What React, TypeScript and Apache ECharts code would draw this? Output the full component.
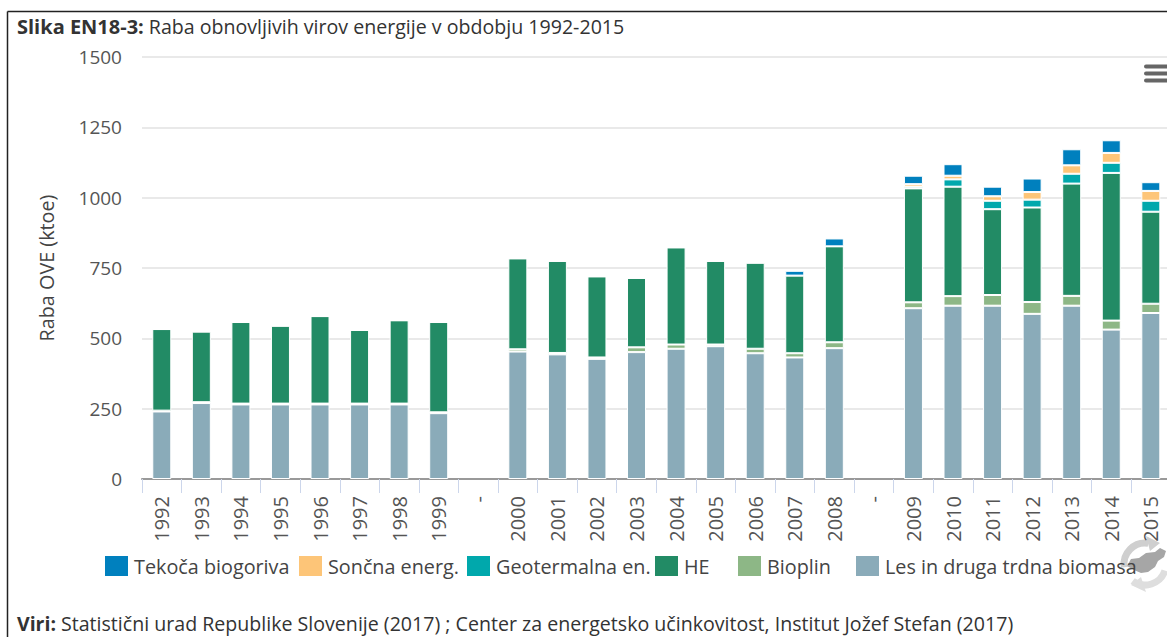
import React, { useEffect, useRef } from "react";
import * as echarts from "echarts";

const categories = ["1992","1993","1994","1995","1996","1997","1998","1999","-","2000","2001","2002","2003","2004","2005","2006","2007","2008","-","2009","2010","2011","2012","2013","2014","2015"];
const biomasa = [240,270,265,265,265,265,265,234,null,453,443,427,451,463,472,447,432,465,null,607,616,616,587,616,531,590];
const bioplin = [3,3,3,3,3,3,3,3,null,8,5,5,17,15,6,16,15,21,null,21,34,38,42,35,32,33];
const he = [290,251,290,277,311,262,296,321,null,323,327,288,247,345,297,306,276,341,null,405,389,305,336,399,525,327];
const geotermalna = [0,0,0,0,0,0,0,0,null,0,0,0,0,0,0,0,0,0,null,6,26,30,28,35,36,39];
const soncna = [0,0,0,0,0,0,0,0,null,0,0,0,0,0,0,0,0,0,null,9,13,16,27,30,35,35];
const biogoriva = [0,0,0,0,0,0,0,0,null,0,0,0,0,0,0,0,17,28,null,30,41,34,48,57,45,31];

const seriesNames = ["Les in druga trdna biomasa","Bioplin","HE","Geotermalna en.","Sončna energ.","Tekoča biogoriva"];
const seriesColors = ["#8AABB9","#8DB786","#228B65","#00A8AC","#FDC578","#0080BE"];
const legendLefts = [856,738,655,467,299,105];
const yTicks = { min: 0, max: 1500, interval: 250 };
const titleBold = "Slika EN18-3:";
const titleText = "Raba obnovljivih virov energije v obdobju 1992-2015";
const sourceBold = "Viri:";
const sourceText = "Statistični urad Republike Slovenije (2017) ; Center za energetsko učinkovitost, Institut Jožef Stefan (2017)";
const yName = "Raba OVE (ktoe)";
const FONT = "'Open Sans', sans-serif";

export default function App() {
  const ref = useRef<HTMLDivElement>(null);
  useEffect(() => {
    document.body.style.margin = "0";
    const chart = echarts.init(ref.current!, undefined, { renderer: "svg" });
    const values = [biomasa, bioplin, he, geotermalna, soncna, biogoriva];
    const rich = {
      b: { fontFamily: FONT, fontSize: 20, fontWeight: 700, color: "#333" },
      n: { fontFamily: FONT, fontSize: 19.6, fontWeight: 400, color: "#333" },
    };
    const richSource = {
      b: { fontFamily: FONT, fontSize: 19.5, fontWeight: 700, color: "#333" },
      n: { fontFamily: FONT, fontSize: 19.6, fontWeight: 400, color: "#333" },
    };
    chart.setOption({
      animation: false,
      backgroundColor: "#fff",
      title: [
        { left: 17, top: 16, padding: 0, text: `{b|${titleBold}} {n|${titleText}}`, textStyle: { fontWeight: 400, rich } },
        { left: 17, top: 613, padding: 0, text: `{b|${sourceBold}} {n|${sourceText}}`, textStyle: { fontWeight: 400, rich: richSource } },
      ],
      grid: { left: 142, top: 57, width: 1028.6, height: 422, containLabel: false, outerBoundsMode: "none" },
      legend: seriesNames.map((name, i) => ({
        data: [name],
        left: legendLefts[i],
        top: 556,
        itemWidth: 23,
        itemHeight: 20,
        icon: "rect",
        padding: 0,
        selectedMode: false,
        itemStyle: { borderWidth: 0 },
        textStyle: { fontFamily: FONT, fontSize: 19.8, color: "#444", padding: [0, 0, 0, 1] },
      })),
      xAxis: {
        type: "category",
        data: categories,
        axisLine: { lineStyle: { color: "#999", width: 2 } },
        axisTick: { show: true, length: 14, alignWithLabel: false, lineStyle: { color: "#ccd6eb", width: 1 } },
        axisLabel: { interval: 0, rotate: 90, margin: 17, fontFamily: FONT, fontSize: 20, color: "#555" },
        splitLine: { show: false },
      },
      yAxis: {
        type: "value",
        min: yTicks.min,
        max: yTicks.max,
        interval: yTicks.interval,
        name: yName,
        nameLocation: "middle",
        nameGap: 86,
        nameTextStyle: { fontFamily: FONT, fontSize: 19.8, color: "#444" },
        axisLine: { show: false },
        axisTick: { show: false },
        axisLabel: { margin: 20, fontFamily: FONT, fontSize: 19, color: "#555", formatter: (v: number) => String(v) },
        splitLine: { lineStyle: { color: "#e9e9e9", width: 2 } },
      },
      series: seriesNames.map((name, i) => ({
        name,
        type: "bar",
        stack: "ove",
        barWidth: 19,
        data: values[i],
        itemStyle: { color: seriesColors[i], borderColor: "#fff", borderWidth: 1 },
      })),
      graphic: [
        { type: "line", silent: true, z: 10, shape: { x1: 7.5, y1: 11.5, x2: 1167, y2: 11.5 }, style: { stroke: "#222", lineWidth: 1.5 } },
        { type: "line", silent: true, z: 10, shape: { x1: 7.5, y1: 11.5, x2: 7.5, y2: 637 }, style: { stroke: "#222", lineWidth: 1.5 } },
        { type: "rect", silent: true, z: 10, shape: { x: 1144, y: 64.5, width: 26, height: 4, r: 2 }, style: { fill: "#666" } },
        { type: "rect", silent: true, z: 10, shape: { x: 1144, y: 71.5, width: 26, height: 4, r: 2 }, style: { fill: "#666" } },
        { type: "rect", silent: true, z: 10, shape: { x: 1144, y: 78.5, width: 26, height: 4, r: 2 }, style: { fill: "#666" } },
        { type: "arc", silent: true, z: 0, shape: { cx: 1145, cy: 564, r: 21, startAngle: Math.PI * 0.95, endAngle: Math.PI * 1.55 }, style: { stroke: "#cfcfcf", lineWidth: 7, fill: "none" } },
        { type: "arc", silent: true, z: 0, shape: { cx: 1145, cy: 564, r: 21, startAngle: Math.PI * 0.1, endAngle: Math.PI * 0.7 }, style: { stroke: "#dedede", lineWidth: 7, fill: "none" } },
        { type: "polygon", silent: true, z: 0, shape: { points: [[1146, 536], [1160, 543], [1150, 551]] }, style: { fill: "#cfcfcf" } },
        { type: "polygon", silent: true, z: 0, shape: { points: [[1146, 592], [1131, 585], [1141, 577]] }, style: { fill: "#dedede" } },
        {
          type: "polygon", silent: true, z: 0,
          shape: { points: [[1127, 566], [1131, 559], [1139, 558], [1146, 553], [1155, 552], [1160, 548], [1166, 551], [1164, 557], [1158, 561], [1155, 567], [1148, 572], [1141, 573], [1134, 570]] },
          style: { fill: "#a6a6a6" },
        },
      ],
    });
    return () => chart.dispose();
  }, []);
  return <div ref={ref} style={{ position: "fixed", left: 0, top: 0, width: 1167, height: 637, overflow: "hidden" }} />;
}
